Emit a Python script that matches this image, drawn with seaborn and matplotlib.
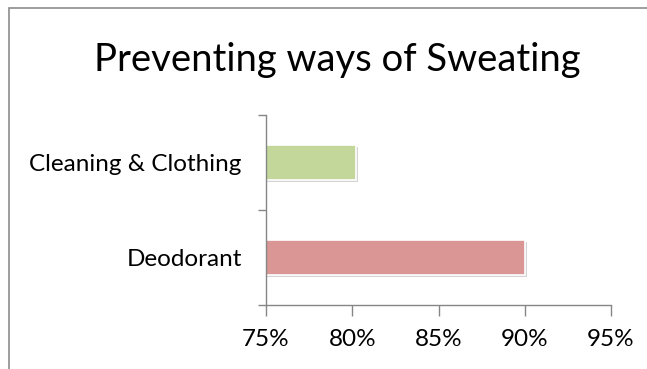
import matplotlib
matplotlib.use("Agg")
import matplotlib.pyplot as plt
import matplotlib.patheffects as pe
from matplotlib.patches import Rectangle
from matplotlib.ticker import FixedLocator, FuncFormatter
import seaborn as sns
import pandas as pd

categories = ["Cleaning & Clothing", "Deodorant"]
values = [80.2, 90.0]
colors = ["#C4D79B", "#D99694"]
x_ticks = [75, 80, 85, 90, 95]

sns.set_theme(style="white")
plt.rcParams["font.family"] = ["Lato", "DejaVu Sans"]

df = pd.DataFrame({"category": categories, "value": values})

fig = plt.figure(figsize=(6.47, 3.69), dpi=100)
fig.patch.set_facecolor("white")
# chart border
fig.patches.append(Rectangle((9 / 647, -0.1), 1.0, 1 - 8 / 369 + 0.1,
                             transform=fig.transFigure, fill=False,
                             edgecolor="#8c8c8c", linewidth=1.2))

ax = fig.add_axes([266 / 647, 1 - 305 / 369, (611 - 266) / 647, (305 - 115) / 369])
sns.barplot(data=df, x="value", y="category", hue="category", palette=colors,
            orient="h", width=0.37, ax=ax, legend=False, edgecolor="white",
            linewidth=1.2, saturation=1)
for p in ax.patches:
    p.set_path_effects([pe.SimplePatchShadow(offset=(1.5, -1.5), shadow_rgbFace="#aaaaaa", alpha=0.5), pe.Normal()])

ax.set_xlim(75, 95)
ax.set_ylim(1.5, -0.5)
ax.xaxis.set_major_locator(FixedLocator(x_ticks))
ax.xaxis.set_major_formatter(FuncFormatter(lambda v, _: f"{v:.0f}%"))
ax.set_yticks([0, 1])
ax.set_yticklabels(categories)
ax.set_yticks([-0.5, 0.5, 1.5], minor=True)
ax.tick_params(axis="y", which="major", length=0, pad=17.5, labelsize=17.5, colors="#000000")
ax.tick_params(axis="y", which="minor", length=6, width=1, color="#868686", direction="out", left=True)
ax.tick_params(axis="x", which="major", length=8, width=1, color="#868686", direction="out",
               pad=9, labelsize=17.5, bottom=True, labelcolor="#000000")
ax.set_xlabel("")
ax.set_ylabel("")
for s in ["top", "right"]:
    ax.spines[s].set_visible(False)
for s in ["left", "bottom"]:
    ax.spines[s].set_color("#868686")
    ax.spines[s].set_linewidth(1)

fig.text(337 / 647, 1 - 60 / 369, "Preventing ways of Sweating", ha="center", va="center",
         fontsize=27.5, color="#000000")

fig.savefig("out.png", dpi=100, facecolor="white")
